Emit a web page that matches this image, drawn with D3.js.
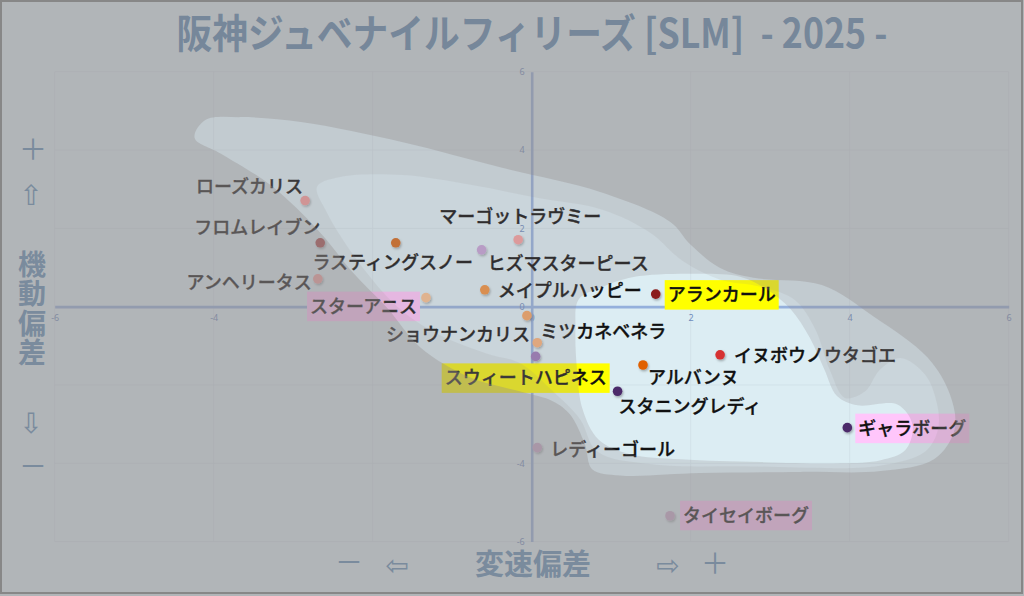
<!DOCTYPE html>
<html><head><meta charset="utf-8">
<script src="https://cdn.jsdelivr.net/npm/d3@7"></script>
<style>html,body{margin:0;padding:0;background:#b2b6b9;} svg{display:block}</style>
</head><body>
<svg id="c" width="1024" height="596"></svg>
<script>
// ---- data ----
const titleText = "阪神ジュベナイルフィリーズ [SLM]  - 2025 -";
const names = ["ローズカリス","フロムレイブン","ラスティングスノー","アンヘリータス","スターアニス","マーゴットラヴミー","ヒズマスターピース","メイプルハッピー","アランカール","ショウナンカリス","ミツカネベネラ","スウィートハピネス","アルバンヌ","スタニングレディ","イヌボウノウタゴエ","ギャラボーグ","レディーゴール","タイセイボーグ"];
const speedDev =    [-2.85,-2.66,-1.71,-2.69,-1.33,-0.17,-0.63,-0.59, 1.56,-0.06, 0.07, 0.05, 1.40, 1.08, 2.37, 3.97, 0.07, 1.74];
const mobilityDev = [ 2.71, 1.63, 1.63, 0.71, 0.23, 1.71, 1.45, 0.43, 0.32,-0.23,-0.92,-1.27,-1.49,-2.16,-1.23,-3.09,-3.60,-5.34];
const pointColors = ["#f09a9a","#a8474a","#d2691e","#f0a0a0","#f8c090","#f4a0a0","#c4a2d6","#f0903c","#8b1a1a","#f4a460","#f7b07a","#9a78b8","#e06000","#4b2a6a","#d63333","#4b2a6a","#c8a8cc","#c8aacc"];
const highlight = [null,null,null,null,"pink",null,null,null,"yellow",null,null,"yellow",null,null,null,"pink",null,"pink"];
// label placement: [anchor, dx, dy]
const labelPlacement = [["end",-2,-8],["end",0,-9],["middle",-3,26],["end",-6,10],["end",-9,15],["middle",2,-17],["start",6,20],["start",13,7],["start",12,7],["end",3,25],["start",3,-5],["middle",-10,28],["start",5,19],["start",1,22],["start",14,7],["start",11,7],["start",13,8],["start",13,6]];
const xTicks = [-6,-4,-2,0,2,4,6];
const yTicks = [-6,-4,-2,0,2,4,6];
// density regions (data units)
const blobOuter = [[-4.24,4.31],[-4.11,4.76],[-3.67,4.84],[-2.88,4.71],[-1.62,4.20],[-0.36,3.54],[0.86,2.93],[1.74,2.17],[2.00,1.58],[2.37,0.99],[2.79,0.74],[3.65,0.55],[4.30,-0.25],[4.98,-1.30],[5.26,-2.24],[5.32,-3.13],[5.06,-3.90],[4.39,-4.20],[3.38,-4.22],[2.12,-4.25],[1.11,-4.31],[0.76,-4.15],[0.67,-3.52],[0.48,-2.75],[0.27,-2.42],[-0.14,-2.17],[-0.77,-1.81],[-1.40,-1.04],[-1.82,-0.03],[-2.25,0.87],[-2.66,1.89],[-3.29,3.11],[-3.92,3.92]];
const blobMiddle = [[-2.70,3.06],[-2.41,3.31],[-1.62,3.36],[-0.77,3.11],[0.07,2.78],[0.90,2.47],[1.49,1.89],[1.91,1.15],[2.37,0.69],[2.88,0.51],[3.31,0.17],[3.57,-0.59],[3.75,-1.62],[3.94,-2.33],[4.19,-2.17],[4.38,-1.61],[4.64,-1.31],[4.95,-1.74],[5.10,-2.50],[5.11,-3.14],[4.95,-3.70],[4.38,-4.06],[2.75,-4.08],[1.49,-4.02],[0.82,-3.69],[0.61,-2.88],[0.27,-2.17],[-0.14,-1.45],[-0.56,-1.20],[-1.19,-0.69],[-1.69,0],[-2.20,1.20],[-2.58,2.42]];
const blobInner = [[0.59,0.18],[0.86,0.48],[1.28,0.76],[2.12,0.84],[2.63,0.76],[2.95,0.45],[3.25,-0.05],[3.50,-0.80],[3.68,-1.60],[3.84,-2.28],[4.10,-2.52],[4.60,-2.50],[4.79,-3.02],[4.70,-3.66],[4.39,-3.92],[3.89,-4.00],[2.88,-3.97],[1.87,-3.90],[1.24,-3.77],[0.84,-3.39],[0.64,-2.62],[0.57,-1.61],[0.55,-0.59]];

// ---- drawing ----
const W = 1024, H = 596;
const svg = d3.select("#c");
const FONT = "'Noto Sans CJK JP','Noto Sans',sans-serif";
const x = d3.scaleLinear().domain([-6, 6]).range([54.7, 1008.7]);
const y = d3.scaleLinear().domain([-6, 6]).range([541.6, 71.7]);

const defs = svg.append("defs");
const f = defs.append("filter").attr("id", "sh").attr("x", "-50%").attr("y", "-50%").attr("width", "200%").attr("height", "200%");
f.append("feDropShadow").attr("dx", 1).attr("dy", 1.5).attr("stdDeviation", 1.2).attr("flood-color", "#000").attr("flood-opacity", 0.3);

svg.append("rect").attr("width", W).attr("height", H).attr("fill", "#dcedf3");

// grid
const grid = svg.append("g").attr("stroke", "#d2e2e9").attr("stroke-width", 1);
grid.selectAll("line.v").data(xTicks.filter(d => d !== 0)).join("line")
  .attr("x1", d => x(d)).attr("x2", d => x(d)).attr("y1", y(6)).attr("y2", y(-6));
grid.selectAll("line.h").data(yTicks.filter(d => d !== 0)).join("line")
  .attr("y1", d => y(d)).attr("y2", d => y(d)).attr("x1", x(-6)).attr("x2", x(6));

// axes
const gx = svg.append("g").attr("transform", `translate(0,${y(0)})`)
  .call(d3.axisBottom(x).tickValues(xTicks).tickSize(0).tickPadding(8).tickFormat(d3.format("d")));
const gy = svg.append("g").attr("transform", `translate(${x(0)},0)`)
  .call(d3.axisLeft(y).tickValues(yTicks).tickSize(0).tickPadding(7).tickFormat(d3.format("d")));
[gx, gy].forEach(g => {
  g.select(".domain").attr("stroke", "#94b0dc").attr("stroke-width", 2.6);
  g.selectAll("text").attr("fill", "#6f8cbc").attr("font-size", 9).attr("font-family", "'Noto Sans',sans-serif");
});
gx.selectAll("text").text(d => String(d).replace("−", "-"));
gy.selectAll("text").text(d => String(d).replace("−", "-"));

// labels, boxes, points
const idx = d3.range(names.length);
const boxG = svg.append("g");
const ptG = svg.append("g");
const lblG = svg.append("g").attr("font-family", FONT).attr("font-size", 18).attr("font-weight", 500)
  .attr("fill", "#111").attr("stroke", "#111").attr("stroke-width", 0.35);
const labels = lblG.selectAll("text").data(idx).join("text")
  .attr("x", i => x(speedDev[i]) + labelPlacement[i][1])
  .attr("y", i => y(mobilityDev[i]) + labelPlacement[i][2])
  .attr("text-anchor", i => labelPlacement[i][0])
  .text(i => names[i]);
labels.each(function(i) {
  if (!highlight[i]) return;
  const bb = this.getBBox();
  const by = y(mobilityDev[i]) + labelPlacement[i][2];
  boxG.append("rect")
    .attr("x", bb.x - 3).attr("width", bb.width + 6)
    .attr("y", by - 21).attr("height", 29.5)
    .attr("fill", highlight[i] === "yellow" ? "#ffff00" : "#ffc6fb");
});
ptG.selectAll("circle").data(idx).join("circle")
  .attr("cx", i => x(speedDev[i])).attr("cy", i => y(mobilityDev[i]))
  .attr("r", 4.8).attr("fill", i => pointColors[i]).attr("filter", "url(#sh)");

// density overlays (dim everything outside each region)
const curve = d3.line().x(d => x(d[0])).y(d => y(d[1])).curve(d3.curveCatmullRomClosed.alpha(0.5));
const full = `M0,0H${W}V${H}H0Z`;
[[blobInner, 0.24], [blobMiddle, 0.13], [blobOuter, 0.35]].forEach(([b, a]) => {
  svg.append("path").attr("d", full + curve(b)).attr("fill-rule", "evenodd")
    .attr("fill", "rgb(146,140,141)").attr("fill-opacity", a);
});

// title
svg.append("text").attr("x", 532).attr("y", 48).attr("text-anchor", "middle")
  .attr("font-family", FONT).attr("font-weight", "bold").attr("font-size", 40)
  .attr("fill", "#76879a").attr("textLength", 711).attr("lengthAdjust", "spacingAndGlyphs")
  .style("white-space", "pre").text(titleText);

// side captions
const capColor = "#7a8b9d";
const ARW = "'DejaVu Sans',sans-serif";
const side = svg.append("g").attr("font-family", FONT).attr("fill", capColor).attr("text-anchor", "middle");
side.append("text").attr("x", 33).attr("y", 160).attr("font-size", 28).text("＋");
side.append("text").attr("x", 31).attr("y", 205).attr("font-size", 28).attr("font-family", ARW).text("⇧");
["機","動","偏","差"].forEach((c, k) => {
  side.append("text").attr("x", 32).attr("y", 274.5 + k * 29.6).attr("font-size", 28).attr("font-weight", "bold").text(c);
});
side.append("text").attr("x", 31).attr("y", 433).attr("font-size", 28).attr("font-family", ARW).text("⇩");
side.append("text").attr("x", 33).attr("y", 477).attr("font-size", 28).text("－");

side.append("text").attr("x", 349).attr("y", 573).attr("font-size", 28).text("－");
side.append("text").attr("x", 397).attr("y", 575).attr("font-size", 28).attr("font-family", ARW).text("⇦");
side.append("text").attr("x", 533).attr("y", 575).attr("font-size", 29).attr("font-weight", "bold").text("変速偏差");
side.append("text").attr("x", 668).attr("y", 575).attr("font-size", 28).attr("font-family", ARW).text("⇨");
side.append("text").attr("x", 715).attr("y", 574).attr("font-size", 28).text("＋");

// frame
svg.append("rect").attr("x", 1).attr("y", 1).attr("width", 1021).attr("height", 592)
  .attr("fill", "none").attr("stroke", "#878787").attr("stroke-width", 2);
</script>
</body></html>
